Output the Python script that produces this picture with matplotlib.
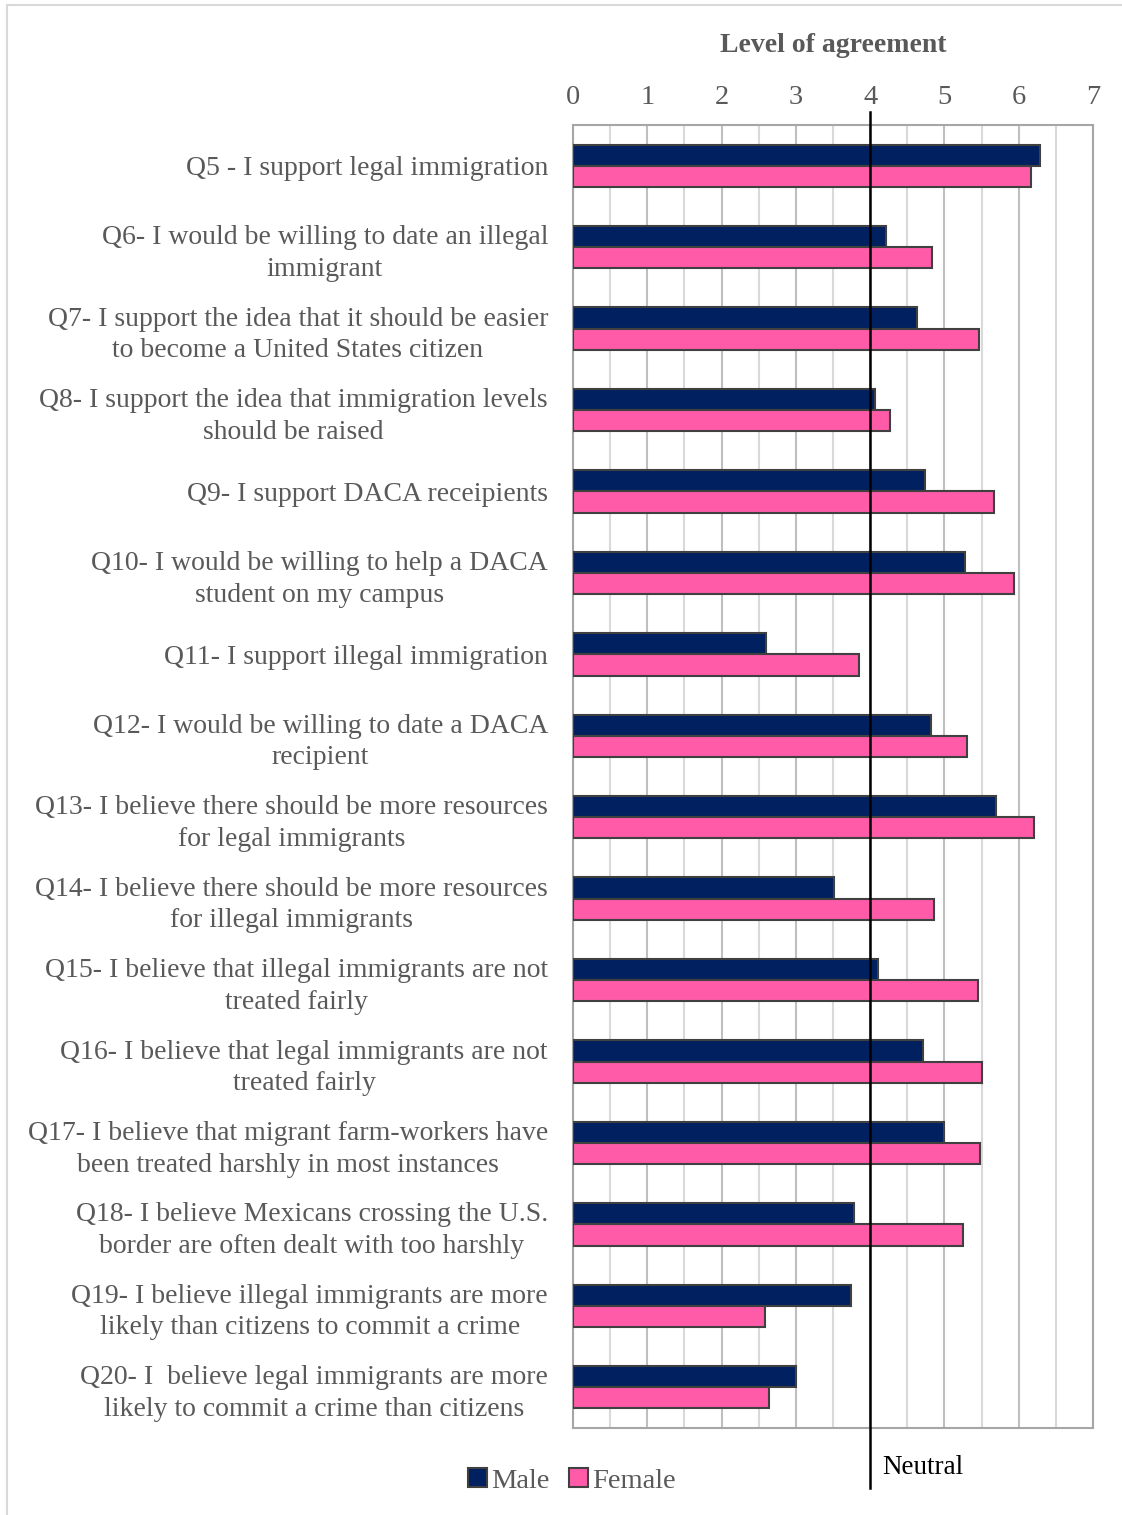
import numpy as np
import matplotlib.pyplot as plt
from matplotlib.lines import Line2D

plt.rcParams['font.family'] = ['Liberation Serif', 'DejaVu Serif']

# Data
questions = [
    "Q5 - I support legal immigration",
    "Q6- I would be willing to date an illegal\nimmigrant",
    "Q7- I support the idea that it should be easier\nto become a United States citizen",
    "Q8- I support the idea that immigration levels\nshould be raised",
    "Q9- I support DACA receipients",
    "Q10- I would be willing to help a DACA\nstudent on my campus",
    "Q11- I support illegal immigration",
    "Q12- I would be willing to date a DACA\nrecipient",
    "Q13- I believe there should be more resources\nfor legal immigrants",
    "Q14- I believe there should be more resources\nfor illegal immigrants",
    "Q15- I believe that illegal immigrants are not\ntreated fairly",
    "Q16- I believe that legal immigrants are not\ntreated fairly",
    "Q17- I believe that migrant farm-workers have\nbeen treated harshly in most instances",
    "Q18- I believe Mexicans crossing the U.S.\nborder are often dealt with too harshly",
    "Q19- I believe illegal immigrants are more\nlikely than citizens to commit a crime",
    "Q20- I  believe legal immigrants are more\nlikely to commit a crime than citizens",
]
male = [6.29, 4.21, 4.63, 4.07, 4.74, 5.28, 2.60, 4.82, 5.69, 3.51, 4.11, 4.71, 4.99, 3.78, 3.74, 3.00]
female = [6.16, 4.83, 5.47, 4.27, 5.67, 5.94, 3.85, 5.30, 6.21, 4.86, 5.45, 5.51, 5.48, 5.25, 2.58, 2.64]
neutral = 4

fig = plt.figure(figsize=(11.22, 15.15), dpi=100)
ax = fig.add_axes([573/1122, 1 - 1428/1515, (1093-573)/1122, (1428-125)/1515])

y = np.arange(len(questions))
h = 0.26
ax.barh(y - h/2, male, height=h, color='#002060', edgecolor='#404040', linewidth=1.5,
        label='Male', zorder=3)
ax.barh(y + h/2, female, height=h, color='#ff5ba8', edgecolor='#404040', linewidth=1.5,
        label='Female', zorder=3)

ax.set_xlim(0, 7)
ax.set_ylim(len(questions) - 0.5, -0.5)
ax.set_yticks(y)
ax.set_yticklabels(questions, fontsize=20, color='#595959', multialignment='center',
                   linespacing=1.35)
ax.tick_params(axis='y', length=0, pad=18)
ax.xaxis.tick_top()
ax.set_xticks(range(8))
ax.set_xticks(np.arange(0.5, 7, 1), minor=True)
ax.tick_params(axis='x', which='both', length=0, pad=11, labelsize=20.5, labelcolor='#595959')
ax.grid(axis='x', which='major', color='#bfbfbf', linewidth=1.5, zorder=0)
ax.grid(axis='x', which='minor', color='#d9d9d9', linewidth=1.5, zorder=0)
for s in ax.spines.values():
    s.set_color('#a6a6a6')
    s.set_linewidth(1.5)

ax.set_title('Level of agreement', fontsize=20, fontweight='bold', color='#595959', pad=52.5)

# Neutral reference line, extends past the plot area
ax.axvline(neutral, ymin=-0.046, ymax=1.01, color='black', linewidth=1.8, zorder=4, clip_on=False)
row_px = (1428 - 125) / len(questions)
ax.text(neutral + 0.16, len(questions) - 0.5 + (1467 - 1428) / row_px, 'Neutral',
        fontsize=19.5, color='black', va='center', clip_on=False)

fig.legend(loc='center', bbox_to_anchor=(572/1122, 1 - 1481/1515), ncol=2, frameon=False,
           fontsize=20.5, labelcolor='#595959', handlelength=0.65, handleheight=0.65,
           handletextpad=0.15, columnspacing=0.7)

# light frame around the chart area
fig.add_artist(Line2D([6.5/1122, 6.5/1122], [0, 1 - 5/1515], transform=fig.transFigure,
                      color='#d9d9d9', linewidth=1.5))
fig.add_artist(Line2D([6.5/1122, 1], [1 - 5/1515, 1 - 5/1515], transform=fig.transFigure,
                      color='#d9d9d9', linewidth=1.5))

fig.savefig('out.png', dpi=100)
